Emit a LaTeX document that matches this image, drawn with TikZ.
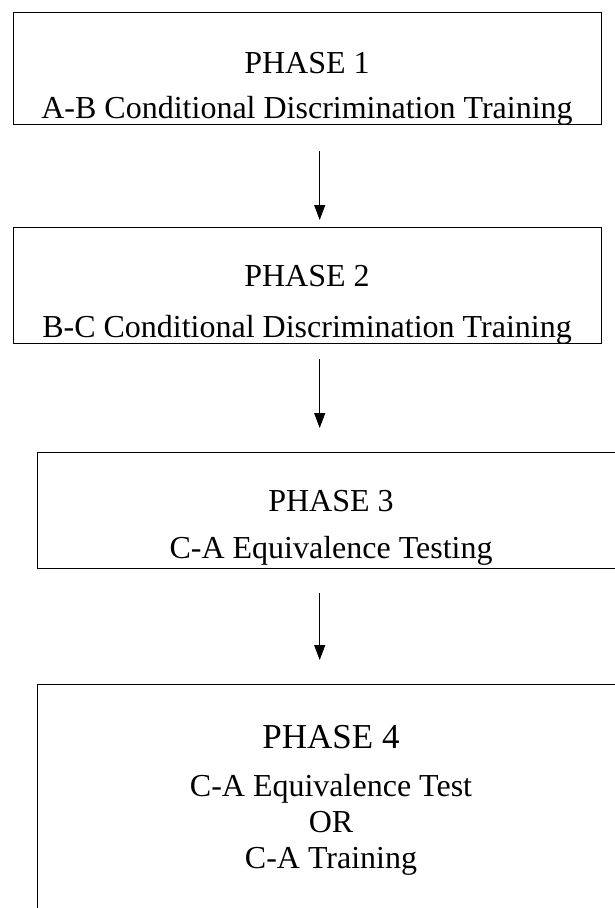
\documentclass[tikz,border=0pt]{standalone}
\usepackage{fontspec}
\setmainfont{Liberation Serif}
\usetikzlibrary{arrows.meta,positioning}
\tikzset{
  >=Latex,
  phasebox/.style={draw=black,line width=1.4pt,inner sep=0pt,anchor=north west},
  title/.style={font=\fontsize{32}{38}\selectfont,anchor=base,inner sep=0pt},
  body/.style={font=\fontsize{32}{38}\selectfont,anchor=base,inner sep=0pt},
  bigtitle/.style={title,font=\fontsize{35}{42}\selectfont},
  flow/.style={-{Triangle[length=15pt,width=11pt]},line width=1.1pt}
}
\begin{document}
\begin{tikzpicture}[x=1pt,y=-1pt]
  \useasboundingbox (0,0) rectangle (614,908);
  % boxes
  \node[phasebox,minimum width=588pt,minimum height=112pt] (box1) at (13,12) {};
  \node[phasebox,minimum width=588pt,minimum height=116pt] (box2) at (13,227) {};
  \node[phasebox,minimum width=588pt,minimum height=116pt] (box3) at (37,452) {};
  \node[phasebox,minimum width=588pt,minimum height=300pt] (box4) at (37,684) {};
  % texts
  \node[title] (ph1title) at (307,73) {PHASE 1};
  \node[body] (ph1text) at (307,118) {A-B Conditional Discrimination Training};
  \node[title] (ph2title) at (307,286) {PHASE 2};
  \node[body] (ph2text) at (307,337) {B-C Conditional Discrimination Training};
  \node[title] (ph3title) at (331,511) {PHASE 3};
  \node[body] (ph3text) at (331,558) {C-A Equivalence Testing};
  \node[bigtitle] (ph4title) at (331,748) {PHASE 4};
  \node[body] (ph4text) at (331,796) {C-A Equivalence Test};
  \node[body] (ph4or) at (331,832) {OR};
  \node[body] (ph4alt) at (331,868) {C-A Training};
  % arrows
  \draw[flow,shorten <=26pt,shorten >=7pt] ([xshift=12pt]box1.south) -- ([xshift=12pt]box1.south |- box2.north);
  \draw[flow,shorten <=15pt,shorten >=24pt] ([xshift=12pt]box2.south) -- ([xshift=12pt]box2.south |- box3.north);
  \draw[flow,shorten <=24pt,shorten >=24pt] ([xshift=12pt]box2.south |- box3.south) -- ([xshift=12pt]box2.south |- box4.north);
\end{tikzpicture}
\end{document}
